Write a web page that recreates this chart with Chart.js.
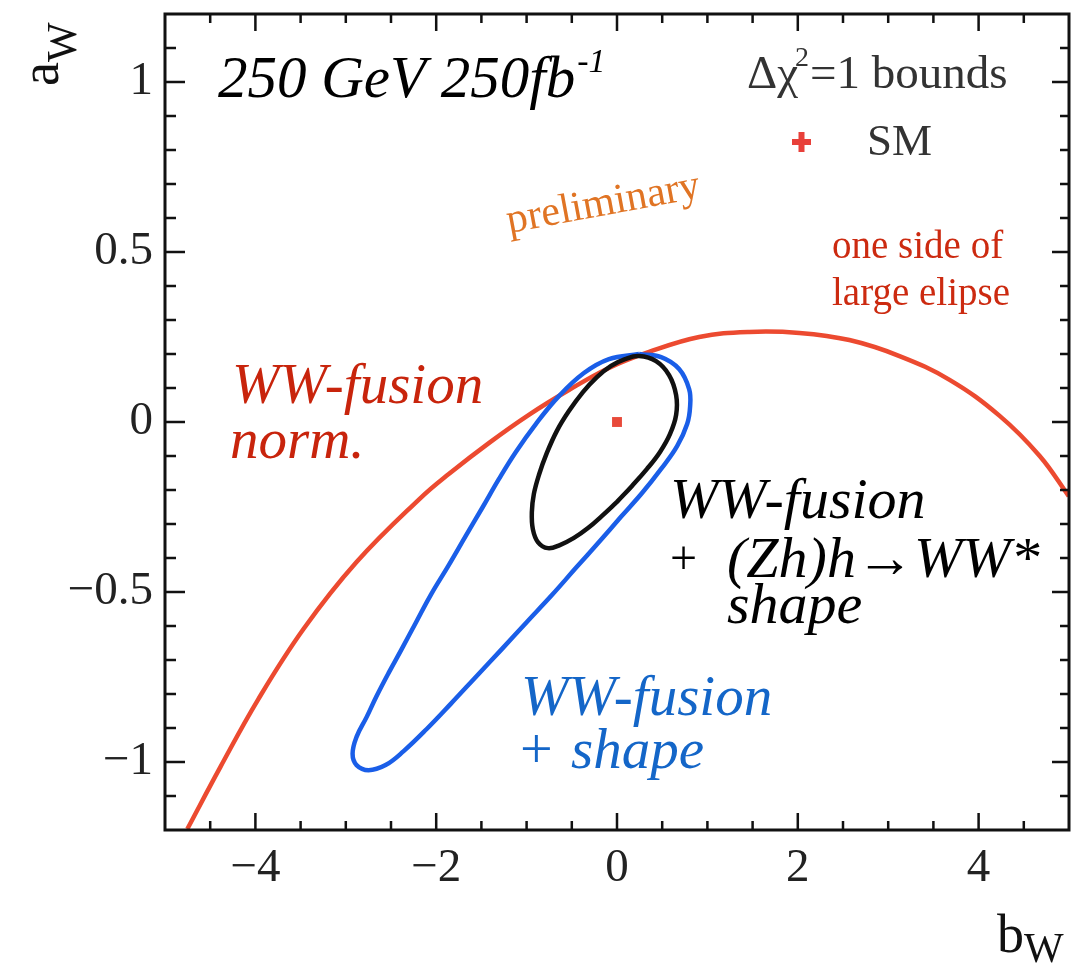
<!DOCTYPE html>
<html>
<head>
<meta charset="utf-8">
<script src="https://cdn.jsdelivr.net/npm/chart.js@4.4.1/dist/chart.umd.min.js"></script>
<style>
  html, body { margin: 0; padding: 0; background: #fff; }
  #wrap { width: 1090px; height: 970px; position: relative; }
</style>
</head>
<body>
<div id="wrap"><canvas id="chart1"></canvas></div>
<script>
// axis ticks
const xTicks = [-4, -2, 0, 2, 4];
const yTicks = [-1, -0.5, 0, 0.5, 1];

// WW-fusion norm. (one side of large ellipse)
const redB = [-4.753, -4.388, -3.967, -3.468, -2.881, -2.183, -1.861, -1.418, -0.975, -0.532, -0.089, 0.355, 0.909, 1.463, 2.017, 2.571, 3.125, 3.679, 4.233, 4.676, 4.997];
const redA = [-1.197, -1.015, -0.815, -0.609, -0.412, -0.226, -0.153, -0.062, 0.021, 0.094, 0.159, 0.206, 0.25, 0.265, 0.262, 0.241, 0.194, 0.124, 0.018, -0.1, -0.218];

// WW-fusion + shape (closed contour)
const blueB = [0.244, 0.488, 0.687, 0.798, 0.809, 0.776, 0.665, 0.488, 0.277, 0.044, -0.199, -0.454, -0.72, -0.997, -1.274, -1.562, -1.839, -2.105, -2.36, -2.56, -2.748, -2.881, -2.925, -2.881, -2.77, -2.659, -2.526, -2.382, -2.227, -2.061, -1.861, -1.673, -1.485, -1.307, -1.119, -0.898, -0.643, -0.366, -0.089, 0.244];
const blueA = [0.2, 0.191, 0.156, 0.097, 0.047, -0.006, -0.071, -0.138, -0.209, -0.279, -0.353, -0.429, -0.509, -0.588, -0.668, -0.75, -0.829, -0.903, -0.968, -1.009, -1.024, -1.009, -0.976, -0.926, -0.868, -0.806, -0.738, -0.668, -0.591, -0.509, -0.421, -0.335, -0.25, -0.168, -0.088, -0.006, 0.076, 0.144, 0.185, 0.2];

// WW-fusion + (Zh)h->WW* shape (closed contour, starts on its lower right side)
const blackB = [0, -0.166, -0.321, -0.476, -0.632, -0.765, -0.875, -0.931, -0.942, -0.92, -0.864, -0.776, -0.665, -0.532, -0.377, -0.222, -0.066, 0.089, 0.244, 0.432, 0.576, 0.654, 0.654, 0.587, 0.476, 0.332, 0.166, 0];
const blackA = [-0.235, -0.276, -0.312, -0.341, -0.362, -0.371, -0.353, -0.315, -0.265, -0.212, -0.156, -0.091, -0.026, 0.032, 0.088, 0.132, 0.165, 0.185, 0.194, 0.179, 0.138, 0.079, 0.021, -0.035, -0.088, -0.138, -0.188, -0.235];

// SM point
const smB = [0];
const smA = [0];

const pts = (bs, as) => bs.map((b, i) => ({x: b, y: as[i]}));

const SERIF = '"Liberation Serif", "DejaVu Serif", serif';

function minus(v) {
  return v < 0 ? '\u2212' + Math.abs(v) : String(v);
}

// frame, inward ticks and all the annotation text
const decor = {
  id: 'decor',
  afterDraw(chart) {
    const ctx = chart.ctx;
    const a = chart.chartArea;
    const xs = chart.scales.x, ys = chart.scales.y;
    ctx.save();
    ctx.strokeStyle = '#111';
    ctx.lineWidth = 3;
    ctx.strokeRect(a.left, a.top, a.right - a.left, a.bottom - a.top);

    ctx.lineWidth = 2.5;
    ctx.beginPath();
    for (let i = -10; i <= 10; i++) {
      const v = i * 0.5;
      const px = xs.getPixelForValue(v);
      if (px <= a.left + 1 || px >= a.right - 1) continue;
      const len = (i % 4 === 0) ? 17 : 9;
      ctx.moveTo(px, a.bottom); ctx.lineTo(px, a.bottom - len);
      ctx.moveTo(px, a.top); ctx.lineTo(px, a.top + len);
    }
    for (let i = -12; i <= 12; i++) {
      const v = i * 0.1;
      const py = ys.getPixelForValue(v);
      if (py <= a.top + 1 || py >= a.bottom - 1) continue;
      const major = (i % 5 === 0);
      ctx.moveTo(a.left, py); ctx.lineTo(a.left + (major ? 20 : 11), py);
      ctx.moveTo(a.right, py); ctx.lineTo(a.right - (major ? 17 : 9), py);
    }
    ctx.stroke();

    ctx.textBaseline = 'alphabetic';
    ctx.textAlign = 'left';

    // axis titles
    ctx.fillStyle = '#111';
    ctx.font = '54px ' + SERIF;
    ctx.fillText('b', 997, 952);
    let w = ctx.measureText('b').width;
    ctx.font = '42px ' + SERIF;
    ctx.fillText('W', 997 + w, 962);

    ctx.save();
    ctx.translate(58, 86);
    ctx.rotate(-Math.PI / 2);
    ctx.font = '54px ' + SERIF;
    ctx.fillText('a', 0, 0);
    w = ctx.measureText('a').width;
    ctx.font = '42px ' + SERIF;
    ctx.fillText('W', w, 18);
    ctx.restore();

    // energy / luminosity
    ctx.fillStyle = '#000';
    ctx.font = 'italic 59px ' + SERIF;
    ctx.fillText('250 GeV 250fb', 218, 97);
    w = ctx.measureText('250 GeV 250fb').width;
    ctx.font = 'italic 34px ' + SERIF;
    ctx.fillText('-1', 218 + w + 2, 72);

    // legend
    ctx.fillStyle = '#333';
    ctx.font = '47px ' + SERIF;
    let x = 747;
    ctx.fillText('\u0394\u03c7', x, 88);
    x += ctx.measureText('\u0394\u03c7').width;
    ctx.font = '28px ' + SERIF;
    ctx.fillText('2', x - 3, 66);
    x += ctx.measureText('2').width - 2;
    ctx.font = '47px ' + SERIF;
    ctx.fillText('=1 bounds', x, 88);
    ctx.font = '45px ' + SERIF;
    ctx.fillText('SM', 867, 155);

    ctx.strokeStyle = '#e8403a';
    ctx.lineWidth = 6;
    ctx.beginPath();
    ctx.moveTo(792, 142); ctx.lineTo(811, 142);
    ctx.moveTo(801.5, 132); ctx.lineTo(801.5, 152);
    ctx.stroke();

    // preliminary
    ctx.save();
    ctx.translate(509, 233);
    ctx.rotate(-10.5 * Math.PI / 180);
    ctx.fillStyle = '#e07424';
    ctx.font = '42px ' + SERIF;
    ctx.fillText('preliminary', 0, 0);
    ctx.restore();

    // one side of large elipse
    ctx.fillStyle = '#cc2a10';
    ctx.font = '39px ' + SERIF;
    ctx.fillText('one side of', 832, 258);
    ctx.fillText('large elipse', 832, 305);

    // red label
    ctx.fillStyle = '#c8240c';
    ctx.font = 'italic 57px ' + SERIF;
    ctx.fillText('WW-fusion', 232, 403);
    ctx.fillText('norm.', 230, 458);

    // black label
    ctx.fillStyle = '#000';
    ctx.font = 'italic 58px ' + SERIF;
    ctx.fillText('WW-fusion', 670, 518);
    ctx.fillText('(Zh)h\u2192WW*', 727, 577);
    ctx.fillText('shape', 727, 623);
    ctx.font = '48px ' + SERIF;
    ctx.fillText('+', 670, 574);

    // blue label
    ctx.fillStyle = '#1466c8';
    ctx.font = 'italic 57px ' + SERIF;
    ctx.fillText('WW-fusion', 521, 715);
    ctx.fillText('shape', 571, 768);
    ctx.font = '58px ' + SERIF;
    ctx.fillText('+', 520, 768);

    ctx.restore();
  }
};

new Chart('chart1', {
  type: 'scatter',
  data: {
    datasets: [
      {
        label: 'SM',
        data: pts(smB, smA),
        pointStyle: 'rect',
        pointRadius: 7,
        backgroundColor: '#e84a3a',
        borderWidth: 0,
        order: 0
      },
      {
        label: 'WW-fusion + (Zh)h->WW* shape',
        data: pts(blackB, blackA),
        showLine: true,
        borderColor: '#111',
        borderWidth: 4.5,
        pointRadius: 0,
        tension: 0.4,
        clip: 0,
        order: 1
      },
      {
        label: 'WW-fusion + shape',
        data: pts(blueB, blueA),
        showLine: true,
        borderColor: '#1a5ee8',
        borderWidth: 4.5,
        pointRadius: 0,
        tension: 0.4,
        clip: 0,
        order: 2
      },
      {
        label: 'WW-fusion norm.',
        data: pts(redB, redA),
        showLine: true,
        borderColor: '#ec4a30',
        borderWidth: 4.5,
        pointRadius: 0,
        tension: 0.4,
        clip: 0,
        order: 3
      }
    ]
  },
  options: {
    responsive: true,
    maintainAspectRatio: false,
    animation: false,
    layout: { padding: { top: 14, right: 21, left: 0, bottom: 0 } },
    scales: {
      x: {
        type: 'linear',
        min: -5,
        max: 5,
        afterBuildTicks: s => { s.ticks = xTicks.map(v => ({value: v})); },
        afterFit: s => { s.height = 140; s.paddingLeft = 0; s.paddingRight = 0; },
        grid: { display: false, drawTicks: false },
        border: { display: false },
        ticks: {
          callback: v => minus(v),
          color: '#222',
          padding: 10,
          maxRotation: 0,
          font: { family: SERIF, size: 47 }
        }
      },
      y: {
        type: 'linear',
        min: -1.2,
        max: 1.2,
        afterBuildTicks: s => { s.ticks = yTicks.map(v => ({value: v})); },
        afterFit: s => { s.width = 165; s.paddingTop = 0; s.paddingBottom = 0; },
        grid: { display: false, drawTicks: false },
        border: { display: false },
        ticks: {
          callback: v => minus(v),
          color: '#222',
          padding: 12,
          font: { family: SERIF, size: 47 }
        }
      }
    },
    plugins: {
      legend: { display: false },
      tooltip: { enabled: false }
    }
  },
  plugins: [decor]
});
</script>
</body>
</html>
